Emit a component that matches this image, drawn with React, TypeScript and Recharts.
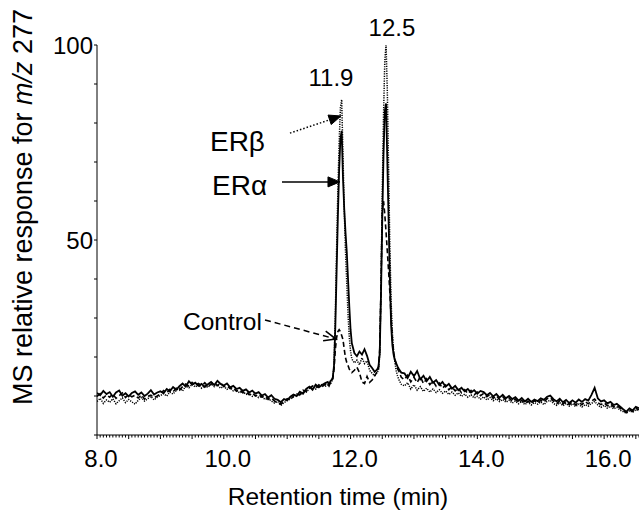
import React from 'react';
import { LineChart, Line, XAxis, YAxis, ReferenceLine, ReferenceDot, Label } from 'recharts';

// retention time (min); denser sampling around the two peaks
const time = [
  8.0, 8.05, 8.1, 8.15, 8.2, 8.25, 8.3, 8.35, 8.4, 8.45, 8.5, 8.55, 8.6, 8.65, 8.7, 8.75, 8.8, 8.85, 8.9, 8.95, 9.0,
  9.05, 9.1, 9.15, 9.2, 9.25, 9.3, 9.35, 9.4, 9.45, 9.5, 9.55, 9.6, 9.65, 9.7, 9.75, 9.8, 9.85, 9.9, 9.95, 10.0,
  10.05, 10.1, 10.15, 10.2, 10.25, 10.3, 10.35, 10.4, 10.45, 10.5, 10.55, 10.6, 10.65, 10.7, 10.75, 10.8, 10.85, 10.9, 10.95, 11.0,
  11.05, 11.1, 11.15, 11.2, 11.25, 11.3, 11.35, 11.4, 11.45, 11.5, 11.55, 11.6,
  11.64, 11.66, 11.68, 11.7, 11.72, 11.74, 11.76, 11.78, 11.8, 11.82, 11.84, 11.86, 11.88, 11.9, 11.92, 11.94, 11.96, 11.98, 12.0, 12.02,
  12.06, 12.1, 12.14, 12.18, 12.22, 12.26, 12.3, 12.34, 12.38, 12.42,
  12.44, 12.46, 12.48, 12.5, 12.52, 12.54, 12.56, 12.58, 12.6, 12.62, 12.64, 12.66, 12.68, 12.7, 12.72, 12.74, 12.76, 12.78, 12.8,
  12.85, 12.9, 12.95, 13.0, 13.05, 13.1, 13.15, 13.2, 13.25, 13.3, 13.35, 13.4, 13.45, 13.5, 13.55, 13.6, 13.65, 13.7, 13.75, 13.8,
  13.85, 13.9, 13.95, 14.0, 14.05, 14.1, 14.15, 14.2, 14.25, 14.3, 14.35, 14.4, 14.45, 14.5, 14.55, 14.6, 14.65, 14.7, 14.75, 14.8,
  14.85, 14.9, 14.95, 15.0, 15.05, 15.1, 15.15, 15.2, 15.25, 15.3, 15.35, 15.4, 15.45, 15.5, 15.55, 15.6, 15.65, 15.7, 15.75, 15.8,
  15.85, 15.9, 15.95, 16.0, 16.05, 16.1, 16.15, 16.2, 16.25, 16.3, 16.35, 16.4, 16.45, 16.5, 16.55,
];

const erAlpha = [
  10.8, 10.2, 11.3, 10.5, 11.0, 9.8, 10.9, 11.4, 10.1, 10.7, 9.9, 10.8, 11.2, 10.3, 10.9, 10.0, 10.6, 11.5, 10.4, 10.9, 11.2,
  10.7, 11.8, 11.2, 12.3, 11.6, 12.5, 13.2, 12.4, 13.8, 12.9, 13.4, 12.6, 13.1, 12.3, 13.0, 13.6, 12.8, 13.9, 13.1, 12.7,
  13.2, 12.2, 12.6, 11.8, 12.1, 11.3, 11.7, 10.9, 11.4, 10.6, 11.0, 10.1, 10.5, 9.6, 10.2, 9.3, 9.0, 8.4, 9.2, 8.9,
  9.8, 10.4, 10.0, 11.1, 10.6, 11.8, 12.4, 11.6, 12.9, 12.2, 12.8, 13.3,
  13.6, 12.9, 13.8, 14.1, 14.8, 18, 28, 42, 56, 68, 76, 78, 66, 58, 52, 47, 40, 33, 27, 23.5,
  21.0, 20.2, 21.4, 20.6, 22.0, 20.3, 18.0, 17.2, 16.2, 16.8,
  17.5, 21, 36, 55, 72, 83, 85, 70, 55, 40, 28, 23, 20.5, 19.2, 18.4, 17.6, 17.0, 16.5, 16.0,
  15.8, 14.6, 16.2, 15.1, 16.4, 14.3, 15.2, 13.8, 14.9, 13.4, 14.1, 12.8, 13.6, 12.4, 13.1, 11.9, 12.6, 11.5, 12.1, 11.2,
  11.8, 10.9, 11.5, 10.6, 11.3, 11.0, 10.2, 10.8, 9.9, 10.5, 9.6, 10.3, 9.4, 10.0, 9.2, 9.7, 8.8, 9.5, 8.6, 9.3,
  8.5, 9.1, 8.7, 9.4, 9.0, 9.8, 10.1, 9.2, 8.6, 9.3, 8.4, 9.0, 8.2, 8.9, 8.3, 9.1, 8.5, 9.2, 8.8, 10.3,
  12.1, 9.4, 8.6, 8.9, 8.1, 8.5, 7.7, 8.0, 7.3, 6.6, 6.0, 6.8, 6.3, 7.2, 6.9,
];

const erBeta = [
  8.6, 9.4, 8.1, 9.0, 8.4, 9.3, 8.0, 8.8, 9.5, 8.3, 9.1, 8.5, 7.9, 8.9, 9.6, 8.7, 9.3, 9.9, 9.0, 9.7, 10.1,
  10.6, 10.0, 11.0, 10.5, 11.4, 12.0, 11.3, 12.6, 12.1, 13.0, 12.3, 12.9, 12.0, 12.7, 12.2, 13.1, 12.4, 12.8, 12.0, 12.5,
  11.7, 12.1, 11.3, 11.6, 10.8, 11.2, 10.4, 10.7, 9.9, 10.3, 9.6, 9.9, 9.1, 9.4, 8.7, 8.2, 8.6, 7.6, 8.3, 8.8,
  9.3, 9.8, 10.5, 10.1, 11.2, 11.0, 11.9, 12.3, 11.8, 12.6, 13.0, 12.5,
  12.8, 13.2, 13.0, 13.6, 14.5, 18, 31, 48, 63, 75, 84, 86, 72, 58, 47, 39, 31, 25, 21.5, 19.5,
  18.5, 19.2, 18.0, 19.8, 18.3, 19.0, 16.6, 15.8, 15.2, 16.0,
  16.8, 20.5, 38, 62, 82, 96, 100, 88, 68, 48, 34, 26, 21.5, 18.5, 16.5, 15.2, 14.3, 13.6, 13.0,
  12.6, 13.4, 11.8, 12.9, 11.5, 12.4, 11.2, 12.0, 11.0, 11.8, 10.9, 11.6, 10.7, 11.3, 10.4, 11.0, 10.2, 10.8, 9.9, 10.5,
  9.7, 10.3, 9.5, 9.9, 9.2, 9.8, 9.0, 9.6, 8.8, 9.3, 8.6, 9.1, 8.4, 8.9, 8.2, 8.7, 8.0, 8.6, 7.8, 8.4,
  7.7, 8.3, 7.9, 8.5, 7.8, 8.6, 8.9, 8.1, 7.6, 8.3, 7.5, 8.1, 7.4, 8.0, 7.3, 7.9, 7.2, 7.8, 7.4, 8.1,
  8.6, 7.7, 7.1, 7.6, 6.9, 7.4, 6.7, 7.1, 6.4, 6.0, 5.6, 6.2, 5.8, 6.5, 6.2,
];

const control = [
  9.9, 10.6, 9.5, 10.3, 9.7, 10.5, 9.4, 10.1, 10.8, 9.6, 10.4, 9.8, 10.2, 9.5, 10.3, 9.2, 9.9, 10.2, 9.6, 10.0, 10.5,
  11.4, 10.8, 11.7, 11.1, 12.0, 11.5, 12.4, 13.1, 12.5, 13.5, 12.8, 13.2, 12.6, 13.4, 12.5, 13.0, 13.5, 12.7, 13.3, 12.4,
  12.6, 11.9, 12.2, 11.2, 11.6, 10.8, 11.1, 10.3, 10.8, 10.0, 10.4, 9.7, 10.0, 9.1, 9.5, 8.7, 8.3, 7.9, 8.6, 9.3,
  9.0, 10.0, 10.7, 10.3, 11.5, 11.2, 12.0, 12.6, 12.1, 12.9, 12.4, 13.0,
  13.2, 12.6, 13.3, 13.8, 14.5, 17, 22, 25, 26.5, 27, 26.5, 25.5, 24.5, 22, 19.8, 18.6, 17.8, 16.9, 16.4, 16.0,
  16.6, 17.4, 16.0, 13.6, 13.2, 15.0, 13.5, 14.1, 15.2, 16.2,
  17, 22, 38, 57, 60, 56.5, 52, 47, 42, 36.5, 30, 24.5, 21, 19.5, 18, 17, 16.4, 15.6, 14.8,
  14.2, 15.3, 13.6, 14.8, 13.4, 15.0, 13.2, 14.4, 12.9, 13.8, 12.5, 13.3, 12.0, 12.8, 11.6, 12.4, 11.3, 12.0, 10.8, 11.6,
  10.6, 11.4, 10.3, 11.0, 10.1, 10.7, 9.8, 10.4, 9.4, 10.1, 9.1, 9.8, 8.9, 9.5, 8.6, 9.2, 8.3, 8.9, 8.1, 8.7,
  8.0, 8.8, 8.2, 8.9, 8.4, 9.3, 9.6, 8.7, 8.0, 8.8, 7.9, 8.6, 7.8, 8.5, 7.7, 8.4, 7.8, 8.6, 8.0, 8.7,
  9.2, 8.3, 7.8, 8.3, 7.5, 8.0, 7.2, 7.6, 6.9, 6.3, 5.7, 6.5, 6.0, 6.8, 6.5,
];

const xLabels = [8, 10, 12, 14, 16];
const yTicks = [0, 10, 20, 30, 40, 50, 60, 70, 80, 90, 100];
const yLabels = [50, 100];

const data = time.map((t, i) => ({ t, erAlpha: erAlpha[i], erBeta: erBeta[i], control: control[i] }));
// minor ticks every 0.05 min, longer every 0.5 min
const xTicks = Array.from({ length: 172 }, (_, i) => Math.round((8 + i * 0.05) * 100) / 100);

const FONT = '"Liberation Sans", Arial, sans-serif';

function XTick(props: any) {
  const { x, y, payload } = props;
  const v = payload.value;
  const major = Math.abs(v * 2 - Math.round(v * 2)) < 1e-6;
  const lab = xLabels.find((l) => Math.abs(l - v) < 1e-6);
  return (
    <g>
      <line x1={x} x2={x} y1={y} y2={y + (major ? 4 : 2.5)} stroke="#000" strokeWidth={1} />
      {lab !== undefined && (
        <text x={x + 4} y={y + 32} textAnchor="middle" fontSize={24} fontFamily={FONT} fill="#000">
          {lab.toFixed(1)}
        </text>
      )}
    </g>
  );
}

function YTick(props: any) {
  const { x, y, payload } = props;
  const show = yLabels.includes(payload.value);
  return (
    <g>
      <line x1={x} x2={x - 3} y1={y} y2={y} stroke="#000" strokeWidth={1} />
      {show && (
        <text x={x - 4} y={y + 9} textAnchor="end" fontSize={24} fontFamily={FONT} fill="#000">
          {payload.value}
        </text>
      )}
    </g>
  );
}

function Arrow(props: any) {
  const { x1, y1, x2, y2, stroke, strokeDasharray, open } = props;
  const len = Math.hypot(x2 - x1, y2 - y1);
  const ux = (x2 - x1) / len;
  const uy = (y2 - y1) / len;
  const hl = 12;
  const hw = 5;
  const bx = x2 - ux * hl;
  const by = y2 - uy * hl;
  const p1 = `${bx - uy * hw},${by + ux * hw}`;
  const p2 = `${bx + uy * hw},${by - ux * hw}`;
  return (
    <g>
      <line x1={x1} y1={y1} x2={open ? x2 : bx} y2={open ? y2 : by} stroke={stroke} strokeWidth={1.5} strokeDasharray={strokeDasharray} />
      {open ? (
        <polyline points={`${p1} ${x2},${y2} ${p2}`} fill="none" stroke={stroke} strokeWidth={1.5} />
      ) : (
        <polygon points={`${p1} ${x2},${y2} ${p2}`} fill={stroke} stroke={stroke} />
      )}
    </g>
  );
}

const note = (text: React.ReactNode, anchor: string, size = 24) => (p: any) => (
  <text x={p.cx} y={p.cy} textAnchor={anchor} fontSize={size} fontFamily={FONT} fill="#000">
    {text}
  </text>
);

export default function App() {
  return (
    <div style={{ position: 'absolute', left: 0, top: 0, background: '#fff' }}>
      <LineChart width={639} height={511} data={data} margin={{ top: 45, right: 0, bottom: 0, left: 0 }}>
        <XAxis
          dataKey="t"
          type="number"
          domain={[8, 16.55]}
          ticks={xTicks}
          interval={0}
          tick={<XTick />}
          tickLine={false}
          tickSize={0}
          tickMargin={0}
          height={76}
          stroke="#000"
          allowDataOverflow
        >
          <Label
            content={() => (
              <text x={338} y={505} textAnchor="middle" fontSize={24.5} fontFamily={FONT} fill="#000">
                Retention time (min)
              </text>
            )}
          />
        </XAxis>
        <YAxis
          type="number"
          domain={[0, 100]}
          ticks={yTicks}
          interval={0}
          tick={<YTick />}
          tickLine={false}
          tickSize={0}
          tickMargin={0}
          width={97}
          stroke="#000"
        >
          <Label
            content={() => (
              <text transform="translate(32,207) rotate(-90)" textAnchor="middle" fontSize={27} fontFamily={FONT} fill="#000">
                MS relative response for <tspan fontStyle="italic">m/z</tspan> 277
              </text>
            )}
          />
        </YAxis>
        <Line dataKey="control" type="linear" stroke="#000" strokeWidth={1.6} strokeDasharray="5 3" dot={false} isAnimationActive={false} />
        <Line dataKey="erBeta" type="linear" stroke="#000" strokeWidth={1.5} strokeDasharray="1.2 1.2" dot={false} isAnimationActive={false} />
        <Line dataKey="erAlpha" type="linear" stroke="#000" strokeWidth={1.8} dot={false} isAnimationActive={false} />

        <ReferenceLine segment={[{ x: 11.044, y: 77.4 }, { x: 11.849, y: 81.8 }]} stroke="#000" strokeDasharray="1.5 2" shape={(p: any) => <Arrow {...p} />} />
        <ReferenceLine segment={[{ x: 10.918, y: 64.9 }, { x: 11.833, y: 64.9 }]} stroke="#000" shape={(p: any) => <Arrow {...p} />} />
        <ReferenceLine segment={[{ x: 10.65, y: 29.5 }, { x: 11.77, y: 24.6 }]} stroke="#000" strokeDasharray="6 4" shape={(p: any) => <Arrow {...p} open />} />

        <ReferenceDot x={12.653} y={102.3} r={0} ifOverflow="visible" shape={note('12.5', 'middle')} />
        <ReferenceDot x={11.691} y={89.5} r={0} ifOverflow="visible" shape={note('11.9', 'middle')} />
        <ReferenceDot x={9.782} y={72.8} r={0} ifOverflow="visible" shape={note('ERβ', 'start', 28)} />
        <ReferenceDot x={9.814} y={61.5} r={0} ifOverflow="visible" shape={note('ERα', 'start', 28)} />
        <ReferenceDot x={9.356} y={26.9} r={0} ifOverflow="visible" shape={note('Control', 'start', 24.5)} />
      </LineChart>
    </div>
  );
}
